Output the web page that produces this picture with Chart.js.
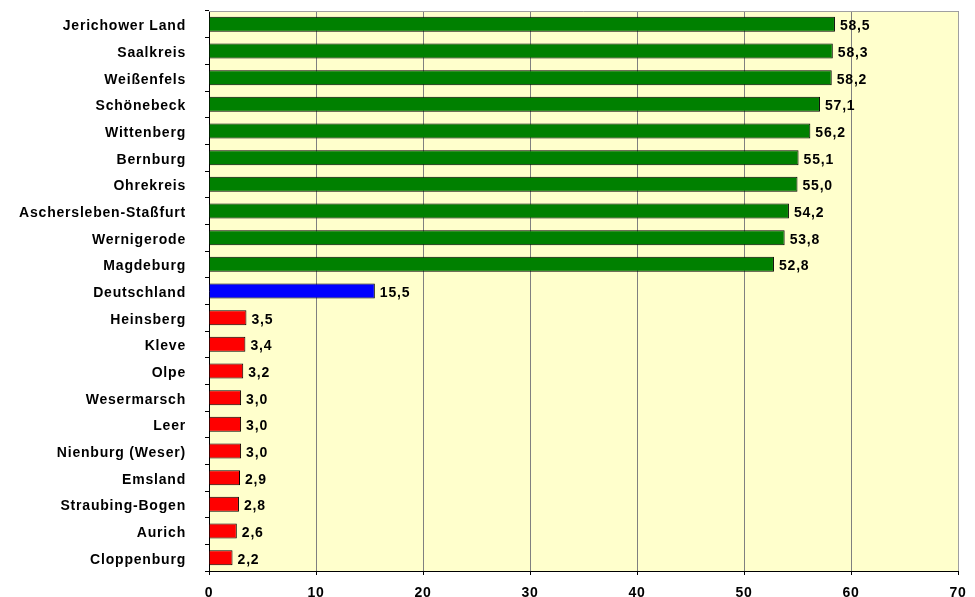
<!DOCTYPE html>
<html>
<head>
<meta charset="utf-8">
<script src="https://cdn.jsdelivr.net/npm/chart.js@4/dist/chart.umd.min.js"></script>
<style>
  html, body { margin: 0; padding: 0; background: #fff; }
  #wrap { width: 975px; height: 597px; }
</style>
</head>
<body>
<div id="wrap"><canvas id="myChart" width="975" height="597"></canvas></div>
<script>
var regions = ["Jerichower Land", "Saalkreis", "Weißenfels", "Schönebeck", "Wittenberg", "Bernburg",
  "Ohrekreis", "Aschersleben-Staßfurt", "Wernigerode", "Magdeburg", "Deutschland",
  "Heinsberg", "Kleve", "Olpe", "Wesermarsch", "Leer", "Nienburg (Weser)", "Emsland",
  "Straubing-Bogen", "Aurich", "Cloppenburg"];
var shares = [58.5, 58.3, 58.2, 57.1, 56.2, 55.1, 55.0, 54.2, 53.8, 52.8, 15.5,
  3.5, 3.4, 3.2, 3.0, 3.0, 3.0, 2.9, 2.8, 2.6, 2.2];
var groups = ["high", "high", "high", "high", "high", "high", "high", "high", "high", "high", "de",
  "low", "low", "low", "low", "low", "low", "low", "low", "low", "low"];
var groupColors = { high: "#008000", de: "#0000FF", low: "#FF0000" };
var xTicks = [0, 10, 20, 30, 40, 50, 60, 70];

var font = "'Liberation Sans', Arial, sans-serif";

// yellow plot background + grey frame on top/right
var plotBg = {
  id: "plotBg",
  beforeDraw: function(chart) {
    var a = chart.chartArea, c = chart.ctx;
    c.letterSpacing = "0.8px";
    c.save();
    c.fillStyle = "#FFFFCC";
    c.fillRect(a.left, a.top, a.right - a.left, a.bottom - a.top);
    c.restore();
  },
  afterDatasetsDraw: function(chart) {
    var a = chart.chartArea, c = chart.ctx;
    c.save();
    c.strokeStyle = "#A0A0A0";
    c.lineWidth = 1;
    c.beginPath();
    c.moveTo(a.left, a.top + 0.5);
    c.lineTo(a.right + 0.5, a.top + 0.5);
    c.lineTo(a.right + 0.5, a.bottom);
    c.stroke();
    c.restore();
  }
};

// value labels at the bar ends
var valueLabels = {
  id: "valueLabels",
  afterDatasetsDraw: function(chart) {
    var c = chart.ctx;
    var meta = chart.getDatasetMeta(0);
    c.save();
    c.font = "bold 14px " + font;
    c.fillStyle = "#000";
    c.textAlign = "left";
    c.textBaseline = "middle";
    meta.data.forEach(function(bar, i) {
      c.fillText(shares[i].toFixed(1).replace(".", ","), bar.x + 5, bar.y + 2);
    });
    c.restore();
  }
};

var ctx = document.getElementById("myChart").getContext("2d");
var myChart = new Chart(ctx, {
  type: "bar",
  data: {
    labels: regions,
    datasets: [{
      data: shares,
      backgroundColor: groups.map(function(g) { return groupColors[g]; }),
      borderColor: "#000",
      borderWidth: 1,
      categoryPercentage: 1,
      barPercentage: 0.56
    }]
  },
  options: {
    indexAxis: "y",
    responsive: false,
    animation: false,
    layout: { padding: { top: 11, right: 17, left: 0, bottom: 0 } },
    plugins: { legend: { display: false }, tooltip: { enabled: false } },
    scales: {
      x: {
        min: 0, max: 70,
        afterBuildTicks: function(scale) {
          scale.ticks = xTicks.map(function(v) { return { value: v }; });
        },
        grid: { color: "#808080", tickColor: "#000", tickLength: 4, lineWidth: 1 },
        border: { color: "#000", width: 1 },
        ticks: { color: "#000", font: { family: font, size: 14, weight: "bold" }, padding: 10 },
        afterFit: function(scale) { scale.height = 26; scale.paddingLeft = 0; scale.paddingRight = 0; }
      },
      y: {
        grid: { drawOnChartArea: false, tickColor: "#000", tickLength: 4 },
        border: { color: "#000", width: 1 },
        ticks: { color: "#000", font: { family: font, size: 14, weight: "bold" }, padding: 19,
          labelOffset: 2, autoSkip: false },
        afterFit: function(scale) { scale.width = 209; scale.paddingTop = 0; scale.paddingBottom = 0; }
      }
    }
  },
  plugins: [plotBg, valueLabels]
});
</script>
</body>
</html>
